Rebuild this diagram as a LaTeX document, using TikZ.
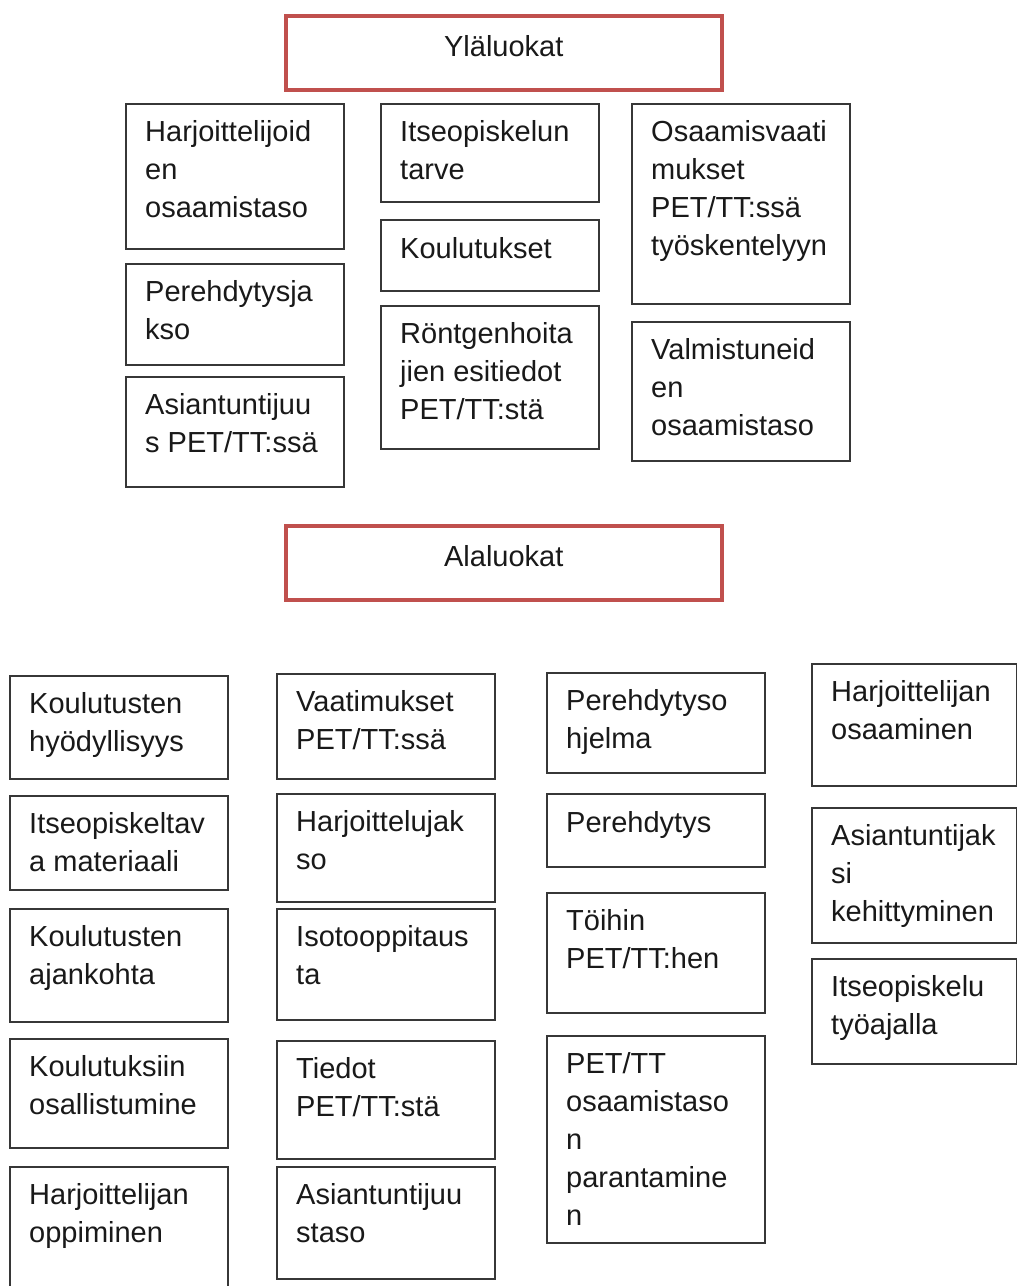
\documentclass[tikz,border=0pt]{standalone}
\usepackage{fontspec}
\setmainfont{Liberation Sans}
\usepackage{tikz}
\definecolor{headred}{RGB}{192,80,77}
\definecolor{boxgray}{RGB}{55,55,55}

\begin{document}
\begin{tikzpicture}[x=1pt, y=-1pt,
    cat/.style={rectangle, draw=boxgray, line width=1.6pt, fill=white, anchor=north west, minimum width=218pt, inner sep=0pt},
    head/.style={rectangle, draw=headred, line width=3.5pt, fill=white, anchor=north west, minimum width=436pt, minimum height=74pt, inner sep=0pt},
    txt/.style={anchor=north west, align=left, inner sep=0pt, xshift=20pt, yshift=-17pt, text=black!90, font=\fontsize{29}{38}\selectfont, execute at begin node=\rule{0pt}{22pt}},
    headtxt/.style={anchor=north, inner sep=0pt, yshift=-20pt, text=black!90, font=\fontsize{29}{38}\selectfont, execute at begin node=\rule{0pt}{22pt}}]

    \useasboundingbox (0,0) rectangle (1017,1286);
    \clip (0,0) rectangle (1017,1286);
    \fill[white] (0,0) rectangle (1017,1286);

    % Headings
    \node[head] (ylaluokat) at (284,14) {};
    \node[headtxt] (ylaluokat-t) at (ylaluokat.north) {Yläluokat};
    \node[head] (alaluokat) at (284,524) {};
    \node[headtxt] (alaluokat-t) at (alaluokat.north) {Alaluokat};

    % Yläluokat, column 1
    \node[cat, minimum height=145pt] (harjTaso) at (125,103) {};
    \node[txt] (harjTaso-t) at (harjTaso.north west) {Harjoittelijoid\\en\\osaamistaso};
    \node[cat, minimum height=101pt] (perJakso) at (125,263) {};
    \node[txt] (perJakso-t) at (perJakso.north west) {Perehdytysja\\kso};
    \node[cat, minimum height=110pt] (asiantPet) at (125,376) {};
    \node[txt] (asiantPet-t) at (asiantPet.north west) {Asiantuntijuu\\s PET/TT:ssä};

    % Yläluokat, column 2
    \node[cat, minimum height=98pt] (itseTarve) at (380,103) {};
    \node[txt] (itseTarve-t) at (itseTarve.north west) {Itseopiskelun\\tarve};
    \node[cat, minimum height=71pt] (koulutukset) at (380,219) {};
    \node[txt] (koulutukset-t) at (koulutukset.north west) {Koulutukset};
    \node[cat, minimum height=143pt] (rontgen) at (380,305) {};
    \node[txt] (rontgen-t) at (rontgen.north west) {Röntgenhoita\\jien esitiedot\\PET/TT:stä};

    % Yläluokat, column 3
    \node[cat, minimum height=200pt] (osaVaat) at (631,103) {};
    \node[txt] (osaVaat-t) at (osaVaat.north west) {Osaamisvaati\\mukset\\PET/TT:ssä\\työskentelyyn};
    \node[cat, minimum height=139pt] (valmTaso) at (631,321) {};
    \node[txt] (valmTaso-t) at (valmTaso.north west) {Valmistuneid\\en\\osaamistaso};

    % Alaluokat, column 1
    \node[cat, minimum height=103pt] (koulHyoty) at (9,675) {};
    \node[txt] (koulHyoty-t) at (koulHyoty.north west) {Koulutusten\\hyödyllisyys};
    \node[cat, minimum height=94pt] (itseMat) at (9,795) {};
    \node[txt] (itseMat-t) at (itseMat.north west) {Itseopiskeltav\\a materiaali};
    \node[cat, minimum height=113pt] (koulAika) at (9,908) {};
    \node[txt] (koulAika-t) at (koulAika.north west) {Koulutusten\\ajankohta};
    \node[cat, minimum height=109pt] (koulOsall) at (9,1038) {};
    \node[txt] (koulOsall-t) at (koulOsall.north west) {Koulutuksiin\\osallistumine};
    \node[cat, minimum height=140pt] (harjOpp) at (9,1166) {};
    \node[txt] (harjOpp-t) at (harjOpp.north west) {Harjoittelijan\\oppiminen};

    % Alaluokat, column 2
    \node[cat, minimum height=105pt] (vaatPet) at (276,673) {};
    \node[txt] (vaatPet-t) at (vaatPet.north west) {Vaatimukset\\PET/TT:ssä};
    \node[cat, minimum height=108pt] (harjJakso) at (276,793) {};
    \node[txt] (harjJakso-t) at (harjJakso.north west) {Harjoittelujak\\so};
    \node[cat, minimum height=111pt] (isotoop) at (276,908) {};
    \node[txt] (isotoop-t) at (isotoop.north west) {Isotooppitaus\\ta};
    \node[cat, minimum height=118pt] (tiedotPet) at (276,1040) {};
    \node[txt] (tiedotPet-t) at (tiedotPet.north west) {Tiedot\\PET/TT:stä};
    \node[cat, minimum height=112pt] (asiantTaso) at (276,1166) {};
    \node[txt] (asiantTaso-t) at (asiantTaso.north west) {Asiantuntijuu\\staso};

    % Alaluokat, column 3
    \node[cat, minimum height=100pt] (perOhj) at (546,672) {};
    \node[txt] (perOhj-t) at (perOhj.north west) {Perehdytyso\\hjelma};
    \node[cat, minimum height=73pt] (perehdytys) at (546,793) {};
    \node[txt] (perehdytys-t) at (perehdytys.north west) {Perehdytys};
    \node[cat, minimum height=120pt] (toihin) at (546,892) {};
    \node[txt] (toihin-t) at (toihin.north west) {Töihin\\PET/TT:hen};
    \node[cat, minimum height=207pt] (petParan) at (546,1035) {};
    \node[txt] (petParan-t) at (petParan.north west) {PET/TT\\osaamistaso\\n\\parantamine\\n};

    % Alaluokat, column 4
    \node[cat, minimum width=205pt, minimum height=122pt] (harjOsa) at (811,663) {};
    \node[txt] (harjOsa-t) at (harjOsa.north west) {Harjoittelijan\\osaaminen};
    \node[cat, minimum width=205pt, minimum height=135pt] (asiantKeh) at (811,807) {};
    \node[txt] (asiantKeh-t) at (asiantKeh.north west) {Asiantuntijak\\si\\kehittyminen};
    \node[cat, minimum width=205pt, minimum height=105pt] (itseTyo) at (811,958) {};
    \node[txt] (itseTyo-t) at (itseTyo.north west) {Itseopiskelu\\työajalla};
\end{tikzpicture}
\end{document}
